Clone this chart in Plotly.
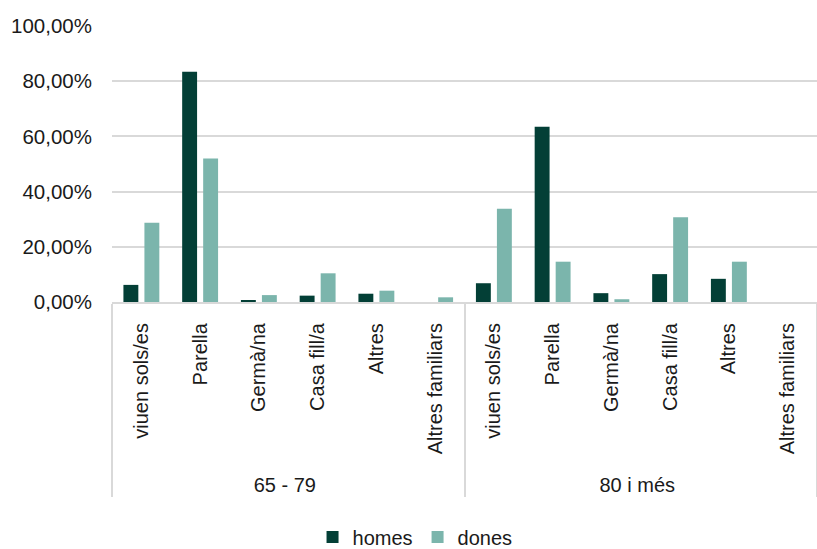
import plotly.graph_objects as go

groups = ["65 - 79"] * 6 + ["80 i més"] * 6
categories = ["viuen sols/es", "Parella", "Germà/na", "Casa fill/a", "Altres", "Altres familiars"] * 2
homes = [0.062, 0.834, 0.007, 0.023, 0.030, 0.0, 0.068, 0.635, 0.032, 0.101, 0.084, 0.0]
dones = [0.287, 0.520, 0.025, 0.104, 0.041, 0.017, 0.338, 0.146, 0.010, 0.307, 0.146, 0.0]
yticks = [0, 0.2, 0.4, 0.6, 0.8, 1.0]

dark = "#033F36"
light = "#7BB5AC"
fontfam = "Liberation Sans, Arial, sans-serif"

# pad labels with non-breaking spaces so they sit a little away from the axis line
cat_labels = [c + "\u00a0\u00a0" for c in categories]

fig = go.Figure()
fig.add_trace(go.Bar(x=[groups, cat_labels], y=homes, name="homes",
                     marker=dict(color=dark, line=dict(width=0))))
fig.add_trace(go.Bar(x=[groups, cat_labels], y=dones, name="dones",
                     marker=dict(color=light, line=dict(width=0))))

fig.update_layout(
    width=817, height=549,
    margin=dict(l=112, r=0, t=26, b=247, autoexpand=False),
    plot_bgcolor="white", paper_bgcolor="white",
    separators=",.",
    barmode="group", bargap=0.285, bargroupgap=0.29,
    font=dict(family=fontfam, size=20, color="#1a1a1a"),
    showlegend=True,
    legend=dict(orientation="h", x=0.508, xanchor="center", xref="container",
                y=-0.851, yanchor="middle", yref="paper", font=dict(size=20),
                itemwidth=30, traceorder="normal", tracegroupgap=0),
    xaxis=dict(type="multicategory", tickangle=-90, showline=True,
               linecolor="#d9d9d9", linewidth=2, ticks="",
               showdividers=True, dividercolor="#d9d9d9", dividerwidth=2,
               tickfont=dict(size=20), automargin=False),
    yaxis=dict(range=[0, 1.0], tickvals=yticks, tickformat=".2%",
               showgrid=True, gridcolor="#d9d9d9", gridwidth=2,
               zeroline=False, showline=False, ticks="", ticklabelstandoff=19,
               tickfont=dict(size=20.5), automargin=False),
)

fig.write_html("out.html")
